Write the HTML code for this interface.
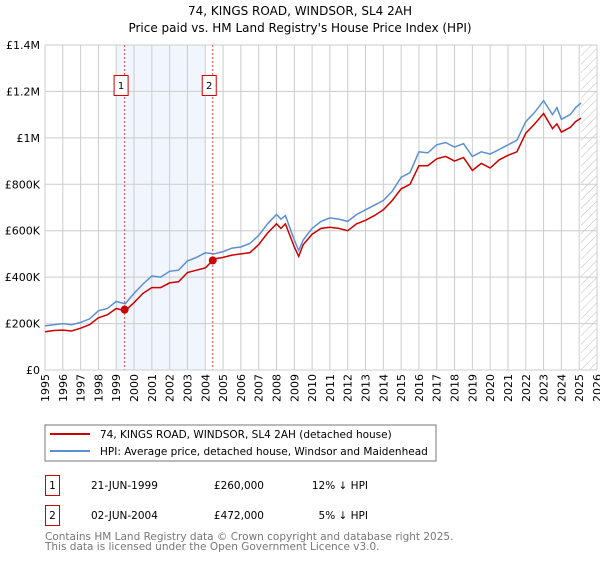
<!DOCTYPE html>
<html><head><meta charset="utf-8"><style>
body{margin:0;background:#fff;font-family:"Liberation Sans","DejaVu Sans",sans-serif;}
svg text{font-family:"DejaVu Sans","Liberation Sans",sans-serif;}
</style></head><body>
<svg id="c" width="600" height="560" xmlns="http://www.w3.org/2000/svg">
<text x="300" y="15" text-anchor="middle" font-size="12">74, KINGS ROAD, WINDSOR, SL4 2AH</text>
<text x="300" y="32" text-anchor="middle" font-size="12">Price paid vs. HM Land Registry's House Price Index (HPI)</text>
<g id="grid"></g><g id="marks"></g>
<rect x="45" y="425" width="391" height="36" fill="none" stroke="#777"/>
<line x1="50" y1="434" x2="90" y2="434" stroke="#cc0000" stroke-width="2"/>
<text x="100" y="438" font-size="10.5">74, KINGS ROAD, WINDSOR, SL4 2AH (detached house)</text>
<line x1="50" y1="451" x2="90" y2="451" stroke="#5b8fd4" stroke-width="2"/>
<text x="100" y="455" font-size="10.5">HPI: Average price, detached house, Windsor and Maidenhead</text>
<g font-size="10.5">
<rect x="45.5" y="475.5" width="14" height="20" fill="none" stroke="#cc0000"/>
<text x="52.5" y="489" text-anchor="middle">1</text>
<text x="91" y="489">21-JUN-1999</text><text x="264" y="489" text-anchor="end">£260,000</text><text x="368" y="489" text-anchor="end">12% ↓ HPI</text>
<rect x="45.5" y="505.5" width="14" height="20" fill="none" stroke="#cc0000"/>
<text x="52.5" y="519" text-anchor="middle">2</text>
<text x="91" y="519">02-JUN-2004</text><text x="264" y="519" text-anchor="end">£472,000</text><text x="368" y="519" text-anchor="end">5% ↓ HPI</text>
</g>
<text x="45" y="540" font-size="10.5" fill="#777">Contains HM Land Registry data © Crown copyright and database right 2025.</text>
<text x="45" y="550" font-size="10.5" fill="#777">This data is licensed under the Open Government Licence v3.0.</text>
</svg>
<script>
const yearsT=[1995,1995.5,1996,1996.5,1997,1997.5,1998,1998.5,1999,1999.5,2000,2000.5,2001,2001.5,2002,2002.5,2003,2003.5,2004,2004.5,2005,2005.5,2006,2006.5,2007,2007.5,2008,2008.25,2008.5,2009,2009.25,2009.5,2010,2010.5,2011,2011.5,2012,2012.5,2013,2013.5,2014,2014.5,2015,2015.5,2016,2016.5,2017,2017.5,2018,2018.5,2019,2019.5,2020,2020.5,2021,2021.5,2022,2022.5,2023,2023.5,2023.75,2024,2024.5,2024.8,2025.1];
const hpiVals=[190,195,200,195,205,220,255,265,295,285,330,370,405,400,425,430,470,485,505,500,510,525,530,545,580,630,670,650,665,560,515,560,610,640,655,650,640,670,690,710,730,770,830,850,940,935,970,980,960,975,920,940,930,950,970,990,1070,1110,1160,1100,1130,1080,1100,1130,1150];
const priceVals=[165,170,172,168,180,195,225,238,265,255,290,330,355,355,375,380,420,430,440,478,485,495,500,505,540,590,630,610,630,530,490,540,585,610,615,610,600,630,645,665,690,730,780,800,880,880,910,920,900,915,860,890,870,905,925,940,1020,1060,1105,1040,1060,1025,1045,1070,1085];
const saleYears=[1999.47,2004.42];
const saleVals=[260,472];
const yTicks=[0,200,400,600,800,1000,1200,1400];
const yLabels=["£0","£200K","£400K","£600K","£800K","£1M","£1.2M","£1.4M"];
const xTicks=[1995,1996,1997,1998,1999,2000,2001,2002,2003,2004,2005,2006,2007,2008,2009,2010,2011,2012,2013,2014,2015,2016,2017,2018,2019,2020,2021,2022,2023,2024,2025,2026];
const NS="http://www.w3.org/2000/svg";
const X=v=>45+(v-1995)*(552/31);
const Y=v=>370-v*(325/1400);
function mk(t,a,p){const e=document.createElementNS(NS,t);for(const k in a)e.setAttribute(k,a[k]);p.appendChild(e);return e;}
const g=document.getElementById('grid'),m=document.getElementById('marks');
let s=mk('rect',{x:X(1999),y:45,width:X(2004)-X(1999),height:325,fill:'#eef3fc',opacity:0.8},g);


const defs=mk('defs',{},g);
const pat=mk('pattern',{id:'h',width:6,height:6,patternUnits:'userSpaceOnUse',patternTransform:'rotate(45)'},defs);
mk('line',{x1:0,y1:0,x2:0,y2:6,stroke:'#bbb','stroke-width':1},pat);
let hr=mk('rect',{x:X(2025.1),y:45,width:597-X(2025.1),height:325,fill:'url(#h)'},g);


yTicks.forEach((v,i)=>{
 let l=mk('line',{x1:45,x2:597,y1:Y(v),y2:Y(v),stroke:'#ccc'},g);
 
 
 let t=mk('text',{x:40,y:Y(v)+4,'text-anchor':'end','font-size':11},g);t.textContent=yLabels[i];
 
 
});
xTicks.forEach(v=>{
 let l=mk('line',{x1:X(v),x2:X(v),y1:45,y2:370,stroke:'#ccc'},g);
 
 
 let t=mk('text',{x:X(v)+4,y:374,'text-anchor':'end','font-size':11,transform:`rotate(-90 ${X(v)+4} 374)`},g);t.textContent=v;
 
 
});
function path(vals,c,n){let d=vals.map((v,i)=>(i?'L':'M')+X(yearsT[i]).toFixed(1)+','+Y(v).toFixed(1)).join('');
 let p=mk('path',{d:d,fill:'none',stroke:c,'stroke-width':1.5},m);
 
 }
path(hpiVals,'#5b8fd4','hpi-line');
path(priceVals,'#cc0000','price-line');
saleYears.forEach((y,i)=>{
 let l=mk('line',{x1:X(y),x2:X(y),y1:45,y2:370,stroke:'#e05050','stroke-dasharray':'2,2'},m);
 
 
 let c=mk('circle',{cx:X(y),cy:Y(saleVals[i]),r:4,fill:'#cc0000'},m);
 
 
 let b=mk('rect',{x:X(y)-10.5,y:75.5,width:14,height:20,fill:'#fff',stroke:'#cc0000'},m);
 
 
 let t=mk('text',{x:X(y)-3.5,y:89,'text-anchor':'middle','font-size':10},m);t.textContent=i+1;
 
 
});
let ax=mk('line',{x1:45,x2:597,y1:370,y2:370,stroke:'#ccc'},m);


</script>
</body></html>
